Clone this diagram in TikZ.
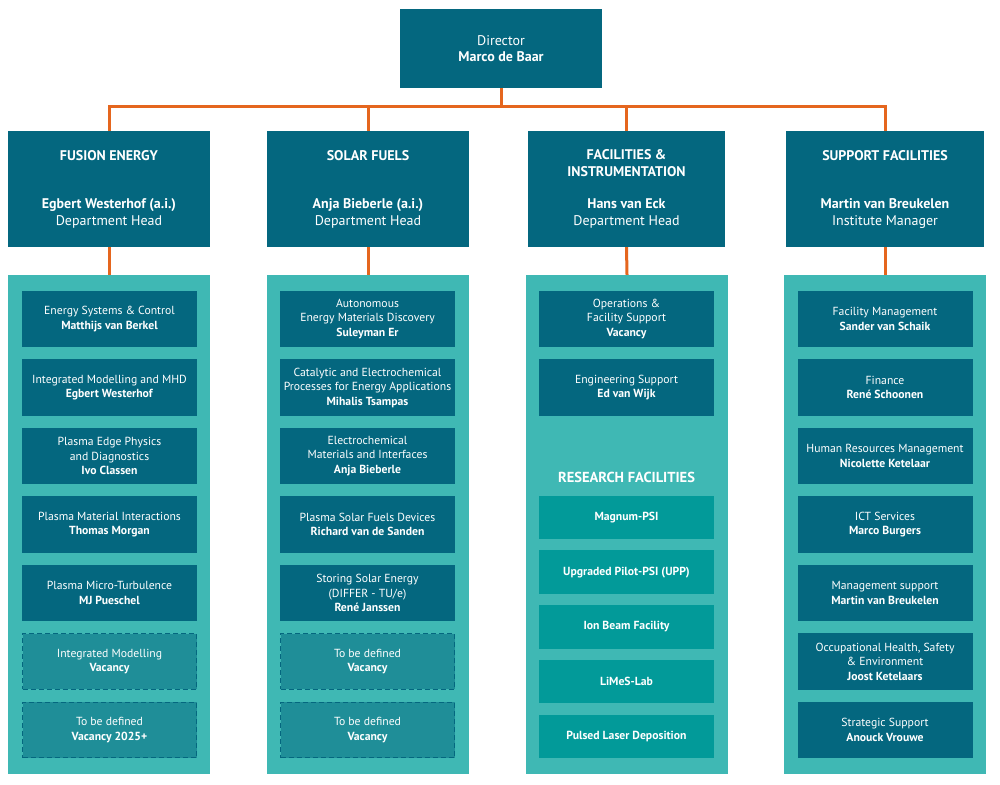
\documentclass[tikz,border=0pt]{standalone}
\usepackage{fontspec}
\setmainfont{PT Sans}
\usetikzlibrary{positioning}
\definecolor{petrol}{HTML}{04677F}
\definecolor{lagoon}{HTML}{3FB8B4}
\definecolor{reef}{HTML}{029A99}
\definecolor{shoal}{HTML}{1F8E98}
\definecolor{ember}{HTML}{E5661E}

\begin{document}
\begin{tikzpicture}[x=1pt, y=-1pt,
    head/.style={fill=petrol, text=white, minimum width=202pt, minimum height=116pt,
        align=center, inner sep=0pt, font=\fontsize{14}{16.5}\selectfont},
    panel/.style={fill=lagoon, minimum width=202pt, minimum height=499pt, inner sep=0pt},
    unit/.style={fill=petrol, text=white, minimum width=175pt, minimum height=56.5pt,
        align=center, inner sep=0pt, font=\fontsize{11.7}{14.5}\selectfont},
    open/.style={unit, fill=shoal, draw=petrol, dash pattern=on 5pt off 3pt, line width=0.8pt,
        minimum width=174pt, minimum height=55.5pt},
    rig/.style={unit, fill=reef, minimum height=43.5pt, font=\bfseries\fontsize{11.7}{14}\selectfont},
    link/.style={draw=ember, line width=3pt}]
    % Page
    \path[use as bounding box, fill=white] (0,0) rectangle (1000,784);

    % Director and departments
    \node[head, minimum height=79pt] (dir) at (501,48.5) {Director\\\textbf{Marco de Baar}};
    \node[head] (fe) at (109,189) {\textbf{FUSION ENERGY}\\[32pt]\textbf{Egbert Westerhof (a.i.)}\\Department Head};
    \node[head] (sf) at (368,189) {\textbf{SOLAR FUELS}\\[32pt]\textbf{Anja Bieberle (a.i.)}\\Department Head};
    \node[head, minimum width=197pt] (fi) at (626.5,189) {\textbf{FACILITIES \&}\\\textbf{INSTRUMENTATION}\\[16pt]\textbf{Hans van Eck}\\Department Head};
    \node[head, minimum width=198pt] (sp) at (885,189) {\textbf{SUPPORT FACILITIES}\\[32pt]\textbf{Martin van Breukelen}\\Institute Manager};

    % Panels
    \node[panel] (fep) at (109,524.5) {};
    \node[panel] (sfp) at (368,524.5) {};
    \node[panel] (fip) at (627,524.5) {};
    \node[panel] (spp) at (885,524.5) {};

    % Lines
    \coordinate (bar) at (501,106);
    \foreach \d in {fe,sf,fi,sp}
        \draw[link] (dir.south) -- (dir.south |- bar) -| (\d.north);
    \foreach \d/\p in {fe/fep,sf/sfp,fi/fip,sp/spp}
        \draw[link] (\d.south) -- (\p.north);

    % Fusion Energy groups
    \node[unit] (fe1) at (109.5,319) {Energy Systems \& Control\\\textbf{Matthijs van Berkel}};
    \node[unit, below=11.6pt of fe1] (fe2) {Integrated Modelling and MHD\\\textbf{Egbert Westerhof}};
    \node[unit, below=11.6pt of fe2] (fe3) {Plasma Edge Physics\\and Diagnostics\\\textbf{Ivo Classen}};
    \node[unit, below=11.6pt of fe3] (fe4) {Plasma Material Interactions\\\textbf{Thomas Morgan}};
    \node[unit, below=11.6pt of fe4] (fe5) {Plasma Micro-Turbulence\\\textbf{MJ Pueschel}};
    \node[open, below=12pt of fe5] (fe6) {Integrated Modelling\\\textbf{Vacancy}};
    \node[open, below=12pt of fe6] (fe7) {To be defined\\\textbf{Vacancy 2025+}};

    % Solar Fuels groups
    \node[unit] (sf1) at (367.5,319) {Autonomous\\Energy Materials Discovery\\\textbf{Suleyman Er}};
    \node[unit, below=11.6pt of sf1] (sf2) {Catalytic and Electrochemical\\Processes for Energy Applications\\\textbf{Mihalis Tsampas}};
    \node[unit, below=11.6pt of sf2] (sf3) {Electrochemical\\Materials and Interfaces\\\textbf{Anja Bieberle}};
    \node[unit, below=11.6pt of sf3] (sf4) {Plasma Solar Fuels Devices\\\textbf{Richard van de Sanden}};
    \node[unit, below=11.6pt of sf4] (sf5) {Storing Solar Energy\\(DIFFER - TU/e)\\\textbf{René Janssen}};
    \node[open, below=12pt of sf5] (sf6) {To be defined\\\textbf{Vacancy}};
    \node[open, below=12pt of sf6] (sf7) {To be defined\\\textbf{Vacancy}};

    % Facilities & Instrumentation groups
    \node[unit] (fi1) at (626.5,319) {Operations \&\\Facility Support\\\textbf{Vacancy}};
    \node[unit, below=11.6pt of fi1] (fi2) {Engineering Support\\\textbf{Ed van Wijk}};
    \node[text=white, font=\bfseries\fontsize{14.5}{16}\selectfont] (rf) at (626.5,477) {RESEARCH FACILITIES};
    \node[rig] (rf1) at (626.5,517.5) {Magnum-PSI};
    \node[rig, below=10.8pt of rf1] (rf2) {Upgraded Pilot-PSI (UPP)};
    \node[rig, below=10.8pt of rf2] (rf3) {Ion Beam Facility};
    \node[rig, below=10.8pt of rf3] (rf4) {LiMeS-Lab};
    \node[rig, below=10.8pt of rf4] (rf5) {Pulsed Laser Deposition};

    % Support Facilities groups
    \node[unit] (sp1) at (885,319) {Facility Management\\\textbf{Sander van Schaik}};
    \node[unit, below=11.6pt of sp1] (sp2) {Finance\\\textbf{René Schoonen}};
    \node[unit, below=11.6pt of sp2] (sp3) {Human Resources Management\\\textbf{Nicolette Ketelaar}};
    \node[unit, below=11.6pt of sp3] (sp4) {ICT Services\\\textbf{Marco Burgers}};
    \node[unit, below=11.6pt of sp4] (sp5) {Management support\\\textbf{Martin van Breukelen}};
    \node[unit, below=11.6pt of sp5] (sp6) {Occupational Health, Safety\\\& Environment\\\textbf{Joost Ketelaars}};
    \node[unit, below=11.6pt of sp6] (sp7) {Strategic Support\\\textbf{Anouck Vrouwe}};
\end{tikzpicture}
\end{document}
